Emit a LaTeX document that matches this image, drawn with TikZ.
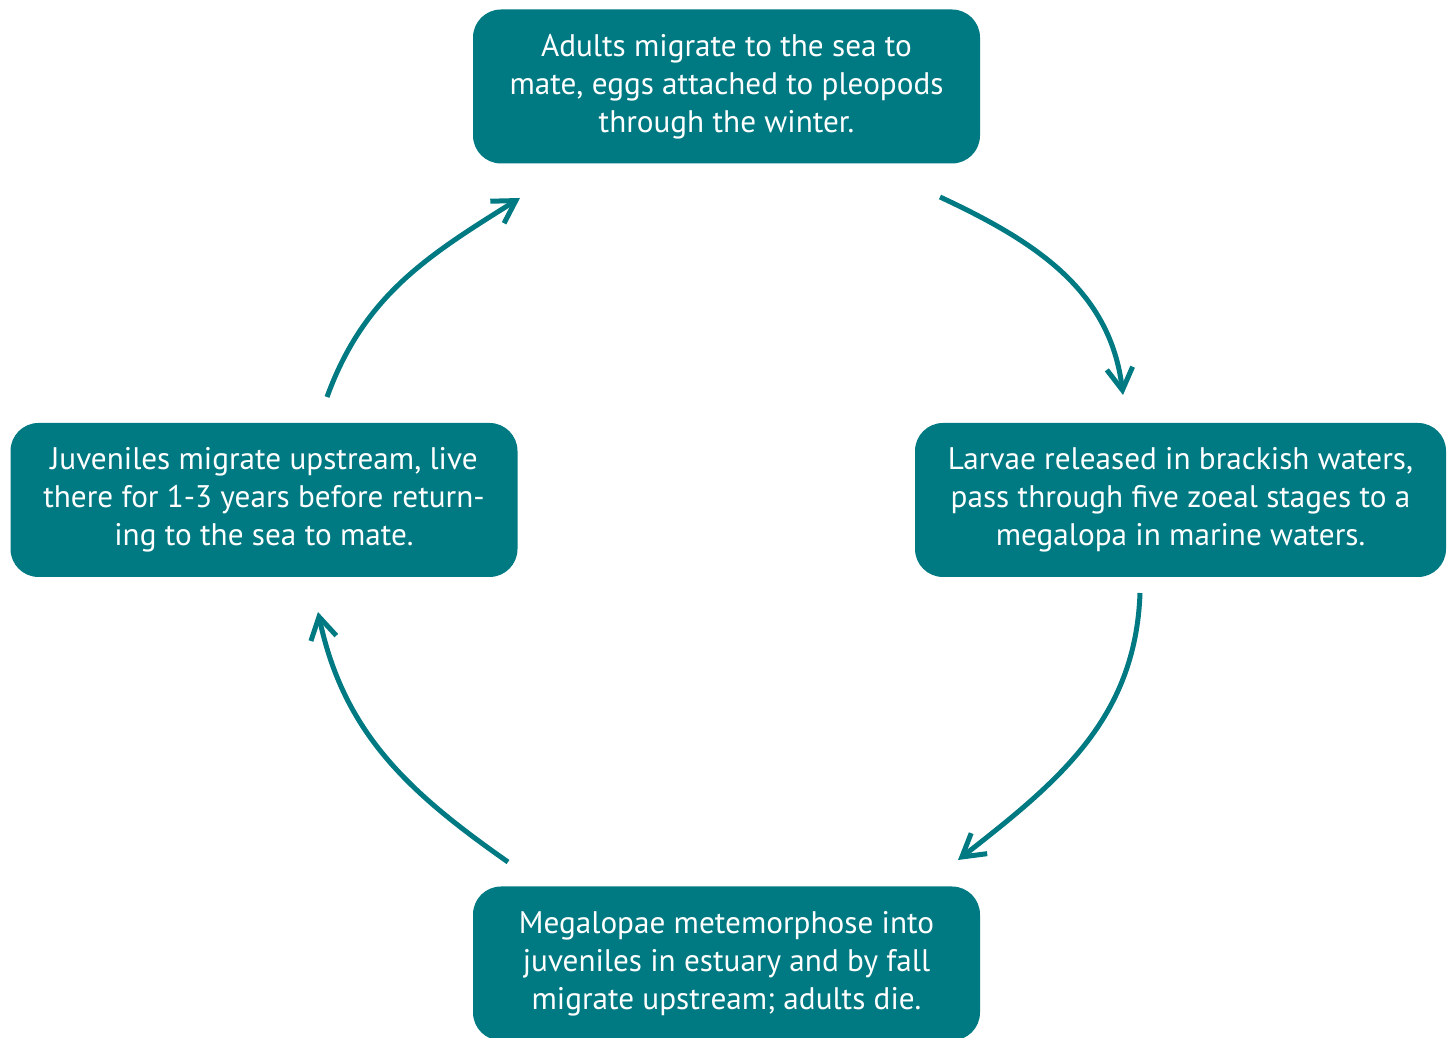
\documentclass[tikz,border=0pt]{standalone}
\usepackage{fontspec}
\setmainfont{PT Sans}
\usetikzlibrary{arrows.meta,positioning}
\definecolor{crabteal}{RGB}{0,122,130}
\tikzset{
  stage/.style={rectangle, rounded corners=14pt, fill=crabteal, text=white,
                minimum width=253.5pt, minimum height=77pt, inner sep=0pt,
                align=center, font=\fontsize{15.6pt}{19pt}\selectfont},
  cycle/.style={-{Straight Barb[length=11pt, width=13pt, line width=2.5pt]},
                line width=2.5pt, crabteal},
}
\begin{document}
\begin{tikzpicture}[x=0.5pt, y=0.5pt]
\useasboundingbox (0,0) rectangle (1452,1038);
\node[stage] (adults) at (726.5, 951.5)
  {Adults migrate to the sea to\\ mate, eggs attached to pleopods\\ through the winter.};
\node[stage, minimum width=265.5pt] (larvae) at (1180.5, 538)
  {Larvae released in brackish waters,\\ pass through five zoeal stages to a\\ megalopa in marine waters.};
\node[stage] (megalopae) at (726.5, 74.5)
  {Megalopae metemorphose into\\ juveniles in estuary and by fall\\ migrate upstream; adults die.};
\node[stage] (juveniles) at (264, 538)
  {Juveniles migrate upstream, live\\ there for 1-3 years before return-\\ ing to the sea to mate.};
% loose arrow ends
\coordinate (a1s) at (940, 841);
\coordinate (a1e) at (1123, 643);
\coordinate (a2s) at (1140, 445);
\coordinate (a2e) at (958, 178);
\coordinate (a3s) at (508, 176);
\coordinate (a3e) at (318, 426);
\coordinate (a4s) at (327, 641);
\coordinate (a4e) at (520, 840);
\draw[cycle] (a1s) to[out=-25, in=97] (a1e);
\draw[cycle] (a2s) to[out=-92, in=38] (a2e);
\draw[cycle] (a3s) to[out=145, in=-78] (a3e);
\draw[cycle] (a4s) to[out=70, in=-148] (a4e);
\end{tikzpicture}
\end{document}
